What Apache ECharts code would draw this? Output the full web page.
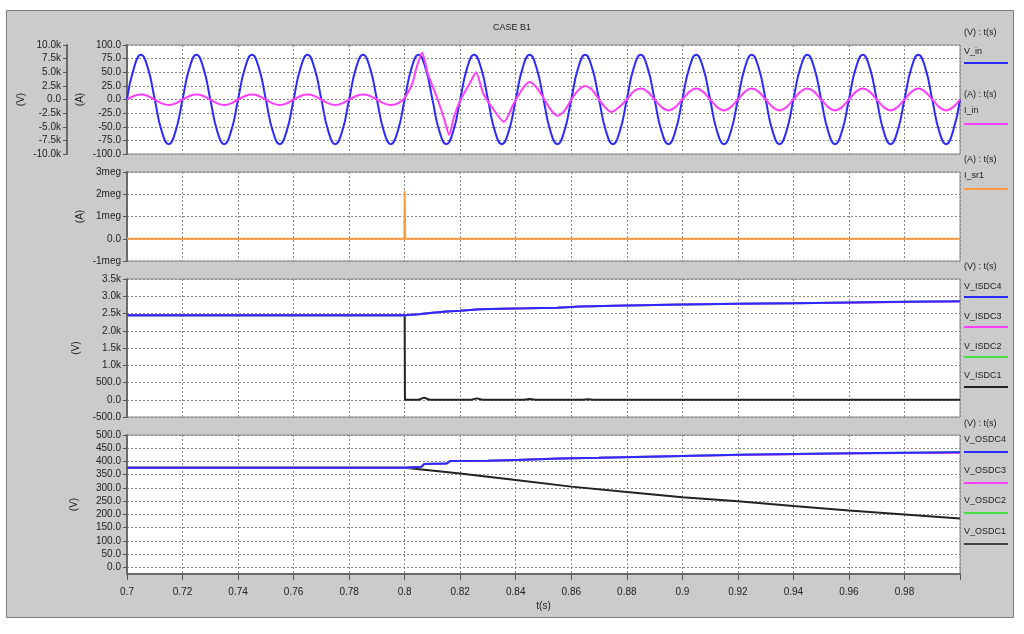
<!DOCTYPE html>
<html><head><meta charset="utf-8">
<script src="https://cdn.jsdelivr.net/npm/echarts@6/dist/echarts.min.js"></script>
<style>html,body{margin:0;padding:0;background:#fff}#c{width:1024px;height:634px}</style>
</head><body><div id="c"></div>
<script>
// ---------- data ----------
const tGrid = [0.7,0.7025,0.705,0.7075,0.71,0.7125,0.715,0.7175,0.72,0.7225,0.725,0.7275,0.73,0.7325,0.735,0.7375,0.74,0.7425,0.745,0.7475,0.75,0.7525,0.755,0.7575,0.76,0.7625,0.765,0.7675,0.77,0.7725,0.775,0.7775,0.78,0.7825,0.785,0.7875,0.79,0.7925,0.795,0.7975,0.8,0.8025,0.805,0.8075,0.81,0.8125,0.815,0.8175,0.82,0.8225,0.825,0.8275,0.83,0.8325,0.835,0.8375,0.84,0.8425,0.845,0.8475,0.85,0.8525,0.855,0.8575,0.86,0.8625,0.865,0.8675,0.87,0.8725,0.875,0.8775,0.88,0.8825,0.885,0.8875,0.89,0.8925,0.895,0.8975,0.9,0.9025,0.905,0.9075,0.91,0.9125,0.915,0.9175,0.92,0.9225,0.925,0.9275,0.93,0.9325,0.935,0.9375,0.94,0.9425,0.945,0.9475,0.95,0.9525,0.955,0.9575,0.96,0.9625,0.965,0.9675,0.97,0.9725,0.975,0.9775,0.98,0.9825,0.985,0.9875,0.99,0.9925,0.995,0.9975,1.0];
const vIn = [0,5800,8200,5800,0,-5800,-8200,-5800, 0,5800,8200,5800,0,-5800,-8200,-5800, 0,5800,8200,5800,0,-5800,-8200,-5800,
  0,5800,8200,5800,0,-5800,-8200,-5800, 0,5800,8200,5800,0,-5800,-8200,-5800, 0,5800,8200,5800,0,-5800,-8200,-5800,
  0,5800,8200,5800,0,-5800,-8200,-5800, 0,5800,8200,5800,0,-5800,-8200,-5800, 0,5800,8200,5800,0,-5800,-8200,-5800,
  0,5800,8200,5800,0,-5800,-8200,-5800, 0,5800,8200,5800,0,-5800,-8200,-5800, 0,5800,8200,5800,0,-5800,-8200,-5800,
  0,5800,8200,5800,0,-5800,-8200,-5800, 0,5800,8200,5800,0,-5800,-8200,-5800, 0,5800,8200,5800,0,-5800,-8200,-5800, 0];

const iInT = [0.7,0.7025,0.705,0.7075,0.71,0.7125,0.715,0.7175,0.72,0.7225,0.725,0.7275,0.73,0.7325,0.735,0.7375,0.74,0.7425,0.745,0.7475,0.75,0.7525,0.755,0.7575,0.76,0.7625,0.765,0.7675,0.77,0.7725,0.775,0.7775,0.78,0.7825,0.785,0.7875,0.79,0.7925,0.795,
  0.7975,0.8,0.8028,0.804,0.8063,0.8083,0.8119,0.8143,0.816,0.8178,0.8202,0.8238,0.8257,0.8283,0.8325,0.8357,0.8393,0.8425,0.845,0.8475,0.85,0.8525,0.855,0.8575,0.86,0.8625,0.865,0.8675,0.87,0.8725,0.8745,0.877,0.88,0.8825,
  0.885,0.8875,0.89,0.8925,0.895,0.8975,0.9,0.9025,0.905,0.9075,0.91,0.9125,0.915,0.9175,0.92,0.9225,0.925,0.9275,0.93,0.9325,0.935,0.9375,0.94,0.9425,0.945,0.9475,0.95,0.9525,0.955,0.9575,0.96,0.9625,0.965,0.9675,0.97,0.9725,0.975,0.9775,0.98,0.9825,0.985,0.9875,0.99,0.9925,0.995,0.9975,1.0];
const iInV = [0,6.5,9,6.5,-0.5,-7,-10,-7, 0,6.5,9,6.5,-0.5,-7,-10,-7, 0,6.5,9,6.5,-0.5,-7,-10,-7, 0,6.5,9,6.5,-0.5,-7,-10,-7, 0,6.5,9,6.5,-0.5,-7,-10,
  -7,3,30,54,86,48,0,-37,-65,-31,0,33,50,11,-22,-41,-7,20,32,22,3,-18,-30,-21,0,17,25,18,0,-16,-23,-15,0,15,
  20,14,0,-14,-20,-14,0,14, 20,14,0,-14,-20,-14,0,14, 20,14,0,-14,-20,-14,0,14, 20,14,0,-14,-20,-14,0,14, 20,14,0,-14,-20,-14,0,14, 20,14,0,-14,-20,-14,0];

const iSr1T = [0.7,0.7999,0.8,0.8002,0.8075,0.808,0.8085,1.0];
const iSr1V = [0,0,2150000,0,0,-25000,0,0];

const isdcT4 = [0.7,0.8,0.805,0.81,0.815,0.82,0.827,0.835,0.844,0.855,0.863,0.88,0.9,0.92,0.94,0.96,0.98,1.0];
const isdcV4 = [2450,2450,2480,2520,2560,2580,2620,2640,2650,2670,2700,2730,2760,2780,2800,2820,2840,2855];
const isdcV3 = [2450,2450,2480,2520,2560,2580,2620,2640,2650,2670,2700,2730,2760,2780,2800,2815,2830,2845];
const isdcV2 = [2450,2450,2480,2520,2560,2580,2620,2640,2650,2670,2700,2730,2760,2780,2800,2820,2840,2855];
const isdcT1 = [0.7,0.8,0.8001,0.805,0.807,0.809,0.824,0.826,0.828,0.843,0.845,0.847,0.864,0.866,0.868,1.0];
const isdcV1 = [2450,2450,0,0,60,0,0,40,0,0,25,0,0,15,0,0];

const osdcT4 = [0.7,0.8,0.803,0.806,0.807,0.815,0.8165,0.83,0.84,0.856,0.87,0.9,0.92,0.94,0.96,0.98,1.0];
const osdcV4 = [376,376,378,380,390,392,402,403,406,411,414,421,425,428,431,433,435];
const osdcV3 = [376,376,378,380,390,392,402,403,406,411,414,421,424,427,430,432,433];
const osdcV2 = [376,376,378,380,390,392,402,403,406,411,414,421,425,428,431,433,435];
const osdcT1 = [0.7,0.8,0.82,0.84,0.86,0.88,0.9,0.92,0.94,0.96,0.98,1.0];
const osdcV1 = [376,376,355,330,305,285,265,250,232,215,200,185];

const xTickStep = 0.02;
const osdcTicks = [0,50,100,150,200,250,300,350,400,450,500];

// ---------- helpers ----------
const zip = (t, v) => t.map((x, i) => [x, v[i]]);
const FONT = '"Liberation Sans", Arial, sans-serif';
const TXT = '#222';
const C = {blue:'#2b2bff', mag:'#ff3cff', orange:'#ff9a3c', green:'#44e044', black:'#222222'};
const GL = 127, GR = 64;
const grids = [
  {left:GL, right:GR, top:45, height:109},
  {left:GL, right:GR, top:172, height:89},
  {left:GL, right:GR, top:279, height:138},
  {left:GL, right:GR, top:435, height:139}
].map(g => Object.assign(g, {show:true, backgroundColor:'#fff', borderColor:'#8a8a8a', borderWidth:1}));

const split = {show:true, lineStyle:{color:'#8a8a8a', type:[2,2], width:1}};
function xAx(i) {
  const last = i === 3;
  return {
    type:'value', gridIndex:i, min:0.7, max:1.0, interval:xTickStep,
    axisLine:{show:last, onZero:false, lineStyle:{color:'#6a6a6a', width:2}},
    axisTick:{show:last, length:6, lineStyle:{color:'#555'}},
    axisLabel:{show:last, margin:13, fontSize:10, fontFamily:FONT, color:TXT,
      formatter:v => v > 0.999 ? '' : String(parseFloat(v.toFixed(2)))},
    splitLine:split,
    name:last ? 't(s)' : '', nameLocation:'middle', nameGap:27, nameMoveOverlap:false,
    nameTextStyle:{fontSize:10, fontFamily:FONT, color:TXT}
  };
}
function yAx(i, o) {
  return Object.assign({
    type:'value', gridIndex:i, position:'left',
    axisLine:{show:true, onZero:false, lineStyle:{color:'#6a6a6a', width:2}},
    axisTick:{show:true, length:4, lineStyle:{color:'#555'}},
    axisLabel:{fontSize:10, fontFamily:FONT, color:TXT, margin:6},
    splitLine:split,
    nameLocation:'middle', nameRotate:90, nameGap:42, nameMoveOverlap:false,
    nameTextStyle:{fontSize:10, fontFamily:FONT, color:TXT}
  }, o);
}
const kFmt = v => v === 0 ? '0.0' : (Math.abs(v) >= 1000 ? (v/1000).toFixed(1) + 'k' : v.toFixed(1));

const yAxes = [
  yAx(0, {min:-100, max:100, interval:25, name:'(A)', nameGap:42, axisLabel:{fontSize:10, fontFamily:FONT, color:TXT, margin:6, formatter:v => v.toFixed(1)}}),
  yAx(0, {min:-10000, max:10000, interval:2500, offset:60, name:'(V)', nameGap:41, splitLine:{show:false},
          axisLabel:{fontSize:10, fontFamily:FONT, color:TXT, margin:6, formatter:kFmt}}),
  yAx(1, {min:-1000000, max:3000000, interval:1000000, name:'(A)', nameGap:42,
          axisLabel:{fontSize:10, fontFamily:FONT, color:TXT, margin:6, formatter:v => v === 0 ? '0.0' : (v/1e6) + 'meg'}}),
  yAx(2, {min:-500, max:3500, interval:500, name:'(V)', nameGap:46, axisLabel:{fontSize:10, fontFamily:FONT, color:TXT, margin:6, formatter:kFmt}}),
  yAx(3, {min:-25, max:500, name:'(V)', nameGap:48,
          axisTick:{show:true, length:4, lineStyle:{color:'#555'}, customValues:osdcTicks},
          axisLabel:{fontSize:10, fontFamily:FONT, color:TXT, margin:6, customValues:osdcTicks, formatter:v => v.toFixed(1)}})
];

function line(name, xi, yi, data, color, extra) {
  return Object.assign({
    name, type:'line', xAxisIndex:xi, yAxisIndex:yi, data, showSymbol:false, symbol:'none',
    lineStyle:{color, width:2}, itemStyle:{color}, animation:false, clip:true
  }, extra || {});
}
const series = [
  line('V_in', 0, 1, zip(tGrid, vIn), C.blue, {smooth:0.5}),
  line('I_in', 0, 0, zip(iInT, iInV), C.mag, {smooth:0.25}),
  line('I_sr1', 1, 2, zip(iSr1T, iSr1V), C.orange),
  line('V_ISDC1', 2, 3, zip(isdcT1, isdcV1), C.black),
  line('V_ISDC2', 2, 3, zip(isdcT4, isdcV2), C.green),
  line('V_ISDC3', 2, 3, zip(isdcT4, isdcV3), C.mag),
  line('V_ISDC4', 2, 3, zip(isdcT4, isdcV4), C.blue),
  line('V_OSDC1', 3, 4, zip(osdcT1, osdcV1), C.black),
  line('V_OSDC2', 3, 4, zip(osdcT4, osdcV2), C.green),
  line('V_OSDC3', 3, 4, zip(osdcT4, osdcV3), C.mag),
  line('V_OSDC4', 3, 4, zip(osdcT4, osdcV4), C.blue)
];

// ---------- legend blocks (text above a colour line) ----------
const legendBlocks = [
  {head:'(V) : t(s)', headY:33, items:[['V_in', C.blue, 52, 63]]},
  {head:'(A) : t(s)', headY:95, items:[['I_in', C.mag, 111, 124]]},
  {head:'(A) : t(s)', headY:160, items:[['I_sr1', C.orange, 176, 189]]},
  {head:'(V) : t(s)', headY:267, items:[['V_ISDC4', C.blue, 287, 297],['V_ISDC3', C.mag, 317, 327],['V_ISDC2', C.green, 347, 357],['V_ISDC1', C.black, 376, 387]]},
  {head:'(V) : t(s)', headY:424, items:[['V_OSDC4', C.blue, 440, 452],['V_OSDC3', C.mag, 471, 483],['V_OSDC2', C.green, 501, 513],['V_OSDC1', '#444', 532, 544]]}
];
const gfx = [
  {type:'rect', z:-100, silent:true, shape:{x:6.5, y:10.5, width:1007, height:607}, style:{fill:'#cbcbcb', stroke:'#7a7a7a', lineWidth:1}}
];
legendBlocks.forEach(b => {
  gfx.push({type:'text', x:964, y:b.headY, style:{text:b.head, fill:TXT, font:'9px ' + FONT, verticalAlign:'middle'}});
  b.items.forEach(([n, col, ty, ly]) => {
    gfx.push({type:'text', x:964, y:ty, style:{text:n, fill:TXT, font:'9px ' + FONT, verticalAlign:'middle'}});
    gfx.push({type:'line', shape:{x1:964, y1:ly, x2:1008, y2:ly}, style:{stroke:col, lineWidth:2}});
  });
});

const chart = echarts.init(document.getElementById('c'), null, {renderer:'canvas'});
chart.setOption({
  backgroundColor:'#fff',
  animation:false,
  title:{text:'CASE B1', left:'center', top:18, textStyle:{fontSize:9, fontWeight:'normal', fontFamily:FONT, color:TXT}},
  graphic:{elements:gfx},
  grid:grids,
  xAxis:[0,1,2,3].map(xAx),
  yAxis:yAxes,
  series
});
</script></body></html>
